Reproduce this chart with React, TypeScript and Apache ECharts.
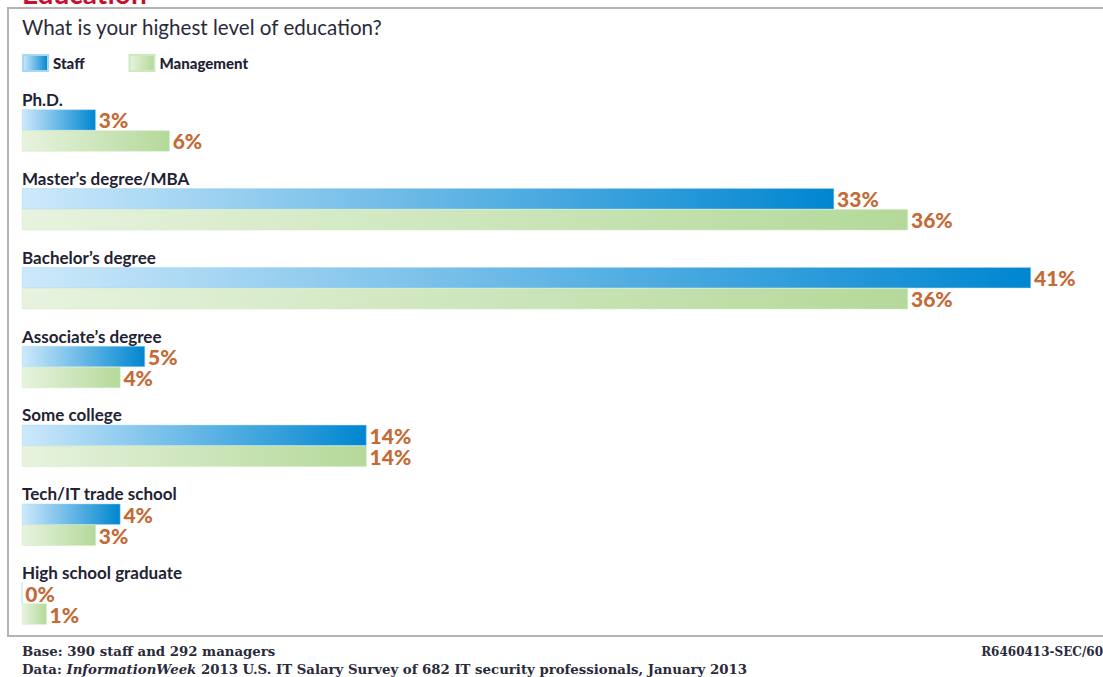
import React, { useEffect, useRef } from "react";
import * as echarts from "echarts";

const categories = [
  "Ph.D.",
  "Master\u2019s degree/MBA",
  "Bachelor\u2019s degree",
  "Associate\u2019s degree",
  "Some college",
  "Tech/IT trade school",
  "High school graduate",
];
const staffValues = [3, 33, 41, 5, 14, 4, 0];
const managementValues = [6, 36, 36, 4, 14, 3, 1];
const seriesNames = ["Staff", "Management"];

const titleText = "Education";
const subtitleText = "What is your highest level of education?";
const baseText = "Base: 390 staff and 292 managers";
const codeText = "R6460413-SEC/60";

const labelColor = "#c46a35";
const condFont = "Lato, 'DejaVu Sans Condensed', sans-serif";
const serifFont = "'DejaVu Serif', 'Liberation Serif', serif";

export default function App() {
  const ref = useRef<HTMLDivElement>(null);
  useEffect(() => {
    if (!ref.current) return;
    const chart = echarts.init(ref.current, undefined, { renderer: "svg" });
    const staffGrad = new echarts.graphic.LinearGradient(0, 0, 1, 0, [
      { offset: 0, color: "#cde9fb" },
      { offset: 1, color: "#0086d0" },
    ]);
    const mgmtGrad = new echarts.graphic.LinearGradient(0, 0, 1, 0, [
      { offset: 0, color: "#e7f3df" },
      { offset: 1, color: "#b4d99a" },
    ]);
    const valueLabel = {
      show: true,
      position: "right" as const,
      distance: 3,
      color: labelColor,
      fontFamily: condFont,
      fontWeight: 900,
      fontSize: 21,
      formatter: (p: any) => `${p.value}%`,
    };
    chart.setOption({
      animation: false,
      backgroundColor: "#ffffff",
      legend: {
        left: 22,
        top: 54,
        padding: 0,
        itemWidth: 25,
        itemHeight: 16,
        itemGap: 44,
        icon: "rect",
        textStyle: {
          fontFamily: condFont,
          fontWeight: 900,
          fontSize: 15,
          color: "#222233",
        },
        data: seriesNames,
      },
      grid: { left: 22, right: 72, top: 91, bottom: 34 },
      xAxis: {
        type: "value",
        min: 0,
        max: 41,
        show: false,
      },
      yAxis: {
        type: "category",
        inverse: true,
        data: categories,
        axisLine: { show: false },
        axisTick: { show: false },
        splitLine: { show: false },
        axisLabel: {
          inside: true,
          margin: 0,
          align: "left",
          verticalAlign: "middle",
          formatter: (v: string) => `{a|${v}}\n{b| }`,
          rich: {
            a: {
              fontFamily: condFont,
              fontWeight: "bold",
              fontSize: 17,
              lineHeight: 20,
              color: "#222233",
            },
            b: { fontSize: 10, lineHeight: 62 },
          },
        },
        z: 10,
      },
      series: [
        {
          name: seriesNames[0],
          type: "bar",
          data: staffValues,
          barWidth: 21,
          barGap: "0%",
          itemStyle: { color: staffGrad, borderColor: "#a8d6f3", borderWidth: 0.5 },
          label: valueLabel,
        },
        {
          name: seriesNames[1],
          type: "bar",
          data: managementValues,
          barWidth: 21,
          barGap: "0%",
          itemStyle: { color: mgmtGrad, borderColor: "#cfe8bf", borderWidth: 0.5 },
          label: valueLabel,
        },
      ],
      graphic: [
        {
          type: "text",
          left: 22,
          top: -21,
          style: {
            text: titleText,
            fill: "#c8102e",
            font: "bold 28px " + condFont,
          },
          z: 1,
        },
        {
          type: "rect",
          shape: { x: 8, y: 8, width: 1200, height: 628 },
          style: { fill: "none", stroke: "#b4b4b4", lineWidth: 2 },
          z: 2,
        },
        {
          type: "text",
          x: 22,
          y: 16,
          style: {
            text: subtitleText,
            fill: "#2a2a3a",
            font: "20.6px Lato, 'Open Sans', sans-serif",
          },
          z: 3,
        },
        {
          type: "text",
          x: 22,
          y: 645,
          style: {
            text: baseText,
            fill: "#2a2a3a",
            font: "bold 13.3px " + serifFont,
          },
        },
        {
          type: "text",
          x: 22,
          y: 663,
          style: {
            rich: {
              n: { fill: "#2a2a3a", font: "bold 13.3px " + serifFont },
              i: { fill: "#2a2a3a", font: "italic bold 13.3px " + serifFont },
            },
            text: "{n|Data: }{i|InformationWeek}{n| 2013 U.S. IT Salary Survey of 682 IT security professionals, January 2013}",
          },
        },
        {
          type: "text",
          x: 1103,
          y: 646,
          style: {
            text: codeText,
            align: "right",
            fill: "#2a2a3a",
            font: "bold 12px " + serifFont,
          },
        },
      ],
    });
    return () => chart.dispose();
  }, []);
  return (
    <div
      ref={ref}
      style={{ position: "fixed", left: 0, top: 0, width: 1103, height: 677 }}
    />
  );
}
